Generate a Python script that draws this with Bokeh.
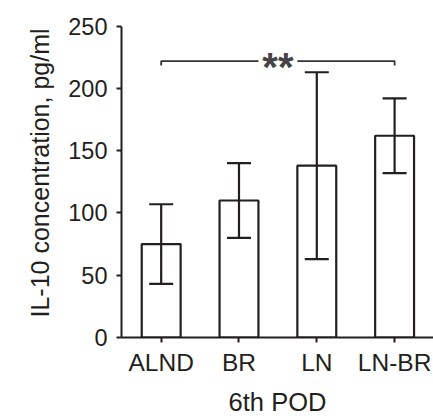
from bokeh.plotting import figure
from bokeh.models import ColumnDataSource, Whisker, TeeHead, Range1d, FixedTicker
from bokeh.core.properties import value
from bokeh.embed import file_html
from bokeh.resources import INLINE

# ---- data ----
groups = ["ALND", "BR", "LN", "LN-BR"]
means = [75, 110, 138, 162]
errors = [32, 30, 75, 30]
y_ticks = [0, 50, 100, 150, 200, 250]
x_title = "6th POD"
y_title = "IL-10 concentration, pg/ml"
sig_pair = ["ALND", "LN-BR"]
sig_level = 222
sig_text = "**"

# ---- style ----
ink = "#231f20"
font = "Liberation Sans"

idx = list(range(len(groups)))
src = ColumnDataSource(dict(
    x=idx,
    mean=means,
    upper=[m + e for m, e in zip(means, errors)],
    lower=[m - e for m, e in zip(means, errors)],
))

xr = Range1d(-0.51, 3.5)
yr = Range1d(0, 264.2)
p = figure(width=433, height=418, x_range=xr, y_range=yr,
           output_backend="svg", toolbar_location=None,
           min_border_left=121, min_border_right=0,
           min_border_top=8, min_border_bottom=80)
p.outline_line_color = None
p.xgrid.visible = False
p.ygrid.visible = False
p.background_fill_color = "white"
p.border_fill_color = "white"

p.vbar(x="x", top="mean", width=0.5, source=src,
       fill_color="white", line_color=ink, line_width=2.2)

head_kw = dict(size=24, line_color=ink, line_width=2.2)
p.add_layout(Whisker(source=src, base="x", upper="upper", lower="lower",
                     line_color=ink, line_width=2.2, level="overlay",
                     upper_head=TeeHead(**head_kw),
                     lower_head=TeeHead(**head_kw)))

# significance bracket
i0 = groups.index(sig_pair[0])
i1 = groups.index(sig_pair[1])
mid = (i0 + i1) / 2
gap = 0.25
drop = 3.5
p.multi_line(xs=[[i0, i0, mid - gap], [mid + gap, i1, i1]],
             ys=[[sig_level - drop, sig_level, sig_level],
                 [sig_level, sig_level, sig_level - drop]],
             line_color="#333333", line_width=1.8)
p.text(x=[mid], y=[sig_level], text=[sig_text],
       text_align="center", text_baseline="middle",
       text_font=value(font), text_font_size="40px",
       text_font_style="bold", text_color="#444444", y_offset=6)

# axes
for ax in (p.xaxis[0], p.yaxis[0]):
    ax.axis_line_color = ink
    ax.axis_line_width = 2
    ax.major_tick_line_color = ink
    ax.major_tick_line_width = 2
    ax.major_tick_in = 0
    ax.major_tick_out = 5
    ax.minor_tick_line_color = None
    ax.major_label_text_color = ink
    ax.major_label_text_font = font
    ax.axis_label_text_font = font
    ax.axis_label_text_font_style = "normal"
    ax.axis_label_text_color = ink

p.xaxis.ticker = FixedTicker(ticks=idx)
p.xaxis.major_label_overrides = {i: g for i, g in zip(idx, groups)}
p.xaxis.major_label_text_font_size = "24.5px"
p.xaxis.major_label_standoff = 6
p.xaxis.axis_label = x_title
p.xaxis.axis_label_text_font_size = "25.5px"
p.xaxis.axis_label_standoff = 9

p.yaxis.ticker = FixedTicker(ticks=y_ticks)
p.yaxis.bounds = (y_ticks[0], y_ticks[-1])
p.yaxis.major_label_text_font_size = "23.5px"
p.yaxis.major_label_standoff = 9
p.yaxis.axis_label = y_title
p.yaxis.axis_label_text_font_size = "25px"
p.yaxis.axis_label_standoff = 11

open("out.html", "w").write(file_html(p, INLINE))
